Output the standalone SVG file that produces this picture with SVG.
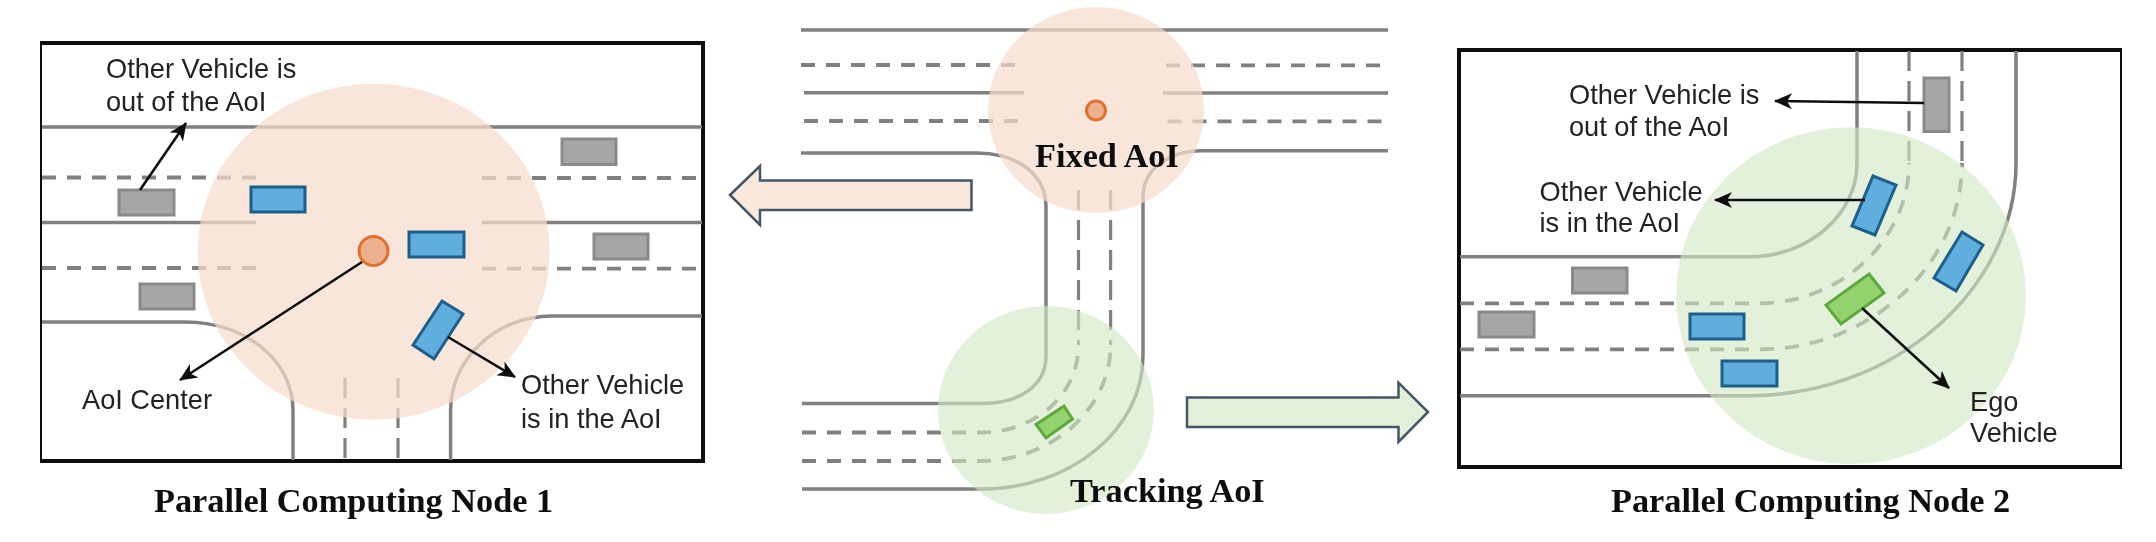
<svg xmlns="http://www.w3.org/2000/svg" width="2156" height="542" viewBox="0 0 2156 542">
<style>
.road{fill:none;stroke:#808080;stroke-width:3.5}
.dash{fill:none;stroke:#808080;stroke-width:3.8;stroke-dasharray:14 11}
.vdash{fill:none;stroke:#808080;stroke-width:3.2;stroke-dasharray:20 10}
.frame{fill:#fff;stroke:#111;stroke-width:4}
.orange{fill:#F6DDCC;fill-opacity:.72}
.green{fill:#D2E8C4;fill-opacity:.62}
.gray{fill:#A6A6A6;stroke:#8a8a8a;stroke-width:3}
.blue{fill:#5FAEDD;stroke:#1F5F8B;stroke-width:3}
.ego{fill:#92D36E;stroke:#5FA83F;stroke-width:3}
.center{fill:#EBB08E;stroke:#E2702F;stroke-width:3}
.conn{fill:none;stroke:#111;stroke-width:2.6;marker-end:url(#ah)}
.label{font-family:"Liberation Sans",Arial,sans-serif;font-size:27.2px;fill:#222}
.title{font-family:"Liberation Serif","Times New Roman",serif;font-weight:bold;font-size:34.3px;fill:#111}
.barrow{stroke:#44546A;stroke-width:2.5}
</style>
<defs>
<marker id="ah" markerUnits="userSpaceOnUse" markerWidth="20" markerHeight="18" refX="17" refY="8" orient="auto"><path d="M0,0 L18,8 L0,16 L5,8 Z" fill="#111"/></marker>
<filter id="soft" x="0" y="0" width="100%" height="100%"><feGaussianBlur stdDeviation="0.7"/></filter>
</defs>
<rect width="2156" height="542" fill="#fff"/>
<g filter="url(#soft)">

<g id="panel-node-1">
<rect class="frame" x="40" y="43" width="663" height="418"/>
<path class="road" d="M42,127H702M42,222.500H256M482,222.500H702M42,322H185C245,322 293,360 293,410V460M702,316H552C495,316 450.600,360 450.600,410V460"/>
<path class="dash" d="M42,177.500H258M482,178H702M42,268H258M482,268.700H702"/>
<path class="vdash" d="M345,378V460M398,378V460"/>
<ellipse class="orange" cx="373.600" cy="251.700" rx="176" ry="168"/>
<g id="n1-cars">
<rect class="gray" x="119" y="190" width="55" height="25"/>
<rect class="gray" x="562" y="139" width="54" height="25.500"/>
<rect class="gray" x="594" y="234" width="54" height="25"/>
<rect class="gray" x="140" y="284" width="54" height="25"/>
<rect class="blue" x="251" y="187" width="54" height="25"/>
<rect class="blue" x="409" y="232" width="55" height="25"/>
<path class="blue" d="M442,301L463,314L434,359L413,345Z"/>
</g>
<circle id="n1-center" class="center" cx="373.500" cy="251" r="14.500"/>
<text class="label" x="106" y="78">Other Vehicle is</text>
<text class="label" x="106" y="111">out of the AoI</text>
<text class="label" x="82" y="409">AoI Center</text>
<text class="label" x="521" y="394">Other Vehicle</text>
<text class="label" x="521" y="428">is in the AoI</text>
<text class="title" x="154" y="512">Parallel Computing Node 1</text>
</g>

<g id="panel-center">
<path class="road" d="M801,30H1388M804,92.800H1024M1163,93H1388M801,153H977C1018,153 1046,175 1046,207V356C1046,385 1020,403.500 982,403.500H802M1388,150.700H1202C1168,150.700 1143,170 1143,197V356C1143,430 1070,489 982,489H802"/>
<path class="dash" d="M801,65H1023M1166,65.300H1388M804,121H1025M1167.500,121.300H1388"/>
<path class="vdash" d="M1078.500,190V345M1110.600,190V345"/>
<path class="dash" d="M802,432.500H981C1035,432.500 1078.500,395 1078.500,345M802,461H981C1050,461 1110.600,410 1110.600,345"/>
<ellipse class="orange" cx="1096" cy="110" rx="108" ry="103"/>
<ellipse class="green" cx="1046" cy="410" rx="108" ry="104"/>
<circle id="fixed-center" class="center" cx="1096" cy="110.500" r="9.500"/>
<path id="center-ego" class="ego" d="M1064,406L1072.500,419L1046,438L1036,424.500Z"/>
<text class="title" x="1035" y="167">Fixed AoI</text>
<text class="title" x="1070" y="502">Tracking AoI</text>
</g>

<g id="arrow-to-node-1"><path class="barrow" fill="#F9E9DD" d="M730,195L760,166V180.500H971.500V210H760V225Z"/></g>
<g id="arrow-to-node-2"><path class="barrow" fill="#E2F0D9" d="M1187,397.500H1398.500V382.700L1428,412L1398.500,442V427H1187Z"/></g>

<g id="panel-node-2">
<rect class="frame" x="1459" y="50" width="663" height="417"/>
<path class="road" d="M1857,51V163C1857,215 1808,256.700 1750,256.700H1460M2016,51V163C2016,290 1893,395.700 1750,395.700H1460"/>
<path class="vdash" d="M1909,51V163M1962,51V163"/>
<path class="dash" d="M1460,303.300H1760C1840,303.300 1909,240 1909,163M1460,349.300H1760C1870,349.300 1962,265 1962,163"/>
<ellipse class="green" cx="1851" cy="295.700" rx="175" ry="168.500"/>
<g id="n2-cars">
<rect class="gray" x="1924" y="78" width="25" height="53.500"/>
<rect class="gray" x="1572.500" y="268" width="54.500" height="25"/>
<rect class="gray" x="1479" y="312" width="55" height="25"/>
<rect class="blue" x="1690" y="314" width="54" height="25"/>
<rect class="blue" x="1722" y="361" width="55" height="25"/>
<path class="blue" d="M1873,176L1896,185L1875,235L1852,226Z"/>
<path class="blue" d="M1962,232L1983,245L1956,291L1934,278Z"/>
<path id="n2-ego" class="ego" d="M1869,274L1884,293L1841,324L1826,305Z"/>
</g>
<text class="label" x="1569" y="104">Other Vehicle is</text>
<text class="label" x="1569" y="135.500">out of the AoI</text>
<text class="label" x="1539.500" y="200.500">Other Vehicle</text>
<text class="label" x="1539.500" y="231.500">is in the AoI</text>
<text class="label" x="1970" y="411">Ego</text>
<text class="label" x="1970" y="442">Vehicle</text>
<text class="title" x="1611" y="512">Parallel Computing Node 2</text>
</g>

<g id="connectors">
<line class="conn" x1="140" y1="190" x2="186" y2="123"/>
<line class="conn" x1="362" y1="262" x2="180" y2="380"/>
<line class="conn" x1="448" y1="337" x2="515" y2="377"/>
<line class="conn" x1="1924" y1="103" x2="1775" y2="101"/>
<line class="conn" x1="1865" y1="200" x2="1715" y2="200"/>
<line class="conn" x1="1862" y1="308" x2="1949" y2="388"/>
</g>
</g>
</svg>
